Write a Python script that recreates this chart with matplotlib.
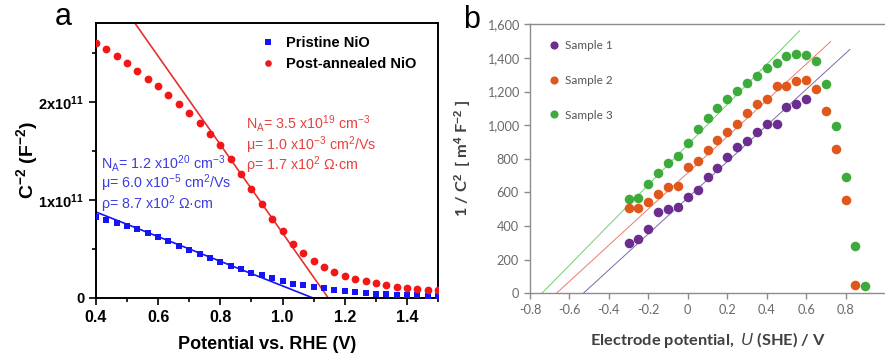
import numpy as np
import matplotlib
matplotlib.use("Agg")
import matplotlib.pyplot as plt
from matplotlib.ticker import MultipleLocator, FuncFormatter

plt.rcParams['font.family'] = ['Liberation Sans', 'DejaVu Sans']
plt.rcParams['mathtext.fontset'] = 'custom'
plt.rcParams['mathtext.rm'] = 'Liberation Sans'
plt.rcParams['mathtext.it'] = 'Liberation Sans:italic'
plt.rcParams['mathtext.bf'] = 'Liberation Sans:bold'
plt.rcParams['mathtext.default'] = 'regular'

# ---------------- Panel a data ----------------
pot_a = [0.400, 0.433, 0.467, 0.500, 0.533, 0.567, 0.600, 0.633, 0.667, 0.700,
         0.733, 0.767, 0.800, 0.833, 0.867, 0.900, 0.933, 0.967, 1.000, 1.033,
         1.067, 1.100, 1.133, 1.167, 1.200, 1.233, 1.267, 1.300, 1.333, 1.367,
         1.400, 1.433, 1.467, 1.500]
pristine = [0.83, 0.80, 0.77, 0.73, 0.70, 0.66, 0.62, 0.58, 0.53, 0.49,
            0.45, 0.41, 0.37, 0.33, 0.30, 0.26, 0.23, 0.20, 0.17, 0.14,
            0.13, 0.11, 0.10, 0.08, 0.07, 0.06, 0.05, 0.045, 0.04, 0.035,
            0.03, 0.03, 0.025, 0.025]  # x1e11
annealed = [2.60, 2.54, 2.47, 2.40, 2.32, 2.24, 2.16, 2.07, 1.98, 1.89,
            1.79, 1.67, 1.56, 1.42, 1.27, 1.11, 0.96, 0.81, 0.68, 0.55,
            0.46, 0.38, 0.32, 0.27, 0.22, 0.19, 0.17, 0.15, 0.13, 0.11,
            0.10, 0.09, 0.085, 0.08]  # x1e11
# Mott-Schottky fits: x-intercept (V), slope (1e11 F^-2 per V)
fit_a_x0 = [1.098, 1.147]
fit_a_slope = [-1.257, -4.51]
fit_a_start = [0.40, 0.40]

# ---------------- Panel b data ----------------
u_b = [-0.30, -0.25, -0.20, -0.15, -0.10, -0.05, 0.00, 0.05, 0.10, 0.15,
       0.20, 0.25, 0.30, 0.35, 0.40, 0.45, 0.50, 0.55, 0.60, 0.65,
       0.70, 0.75, 0.80, 0.85, 0.90]
sample1 = [297, 321, 381, 484, 500, 515, 575, 615, 690, 743,
           813, 872, 908, 960, 1005, 1005, 1110, 1124, 1154]
sample2 = [506, 506, 541, 591, 634, 640, 753, 787, 853, 912,
           960, 1007, 1071, 1126, 1154, 1233, 1235, 1263, 1269, 1213,
           1085, 859, 555, 50]
sample3 = [561, 567, 650, 714, 777, 817, 896, 975, 1041, 1104,
           1158, 1205, 1253, 1293, 1338, 1368, 1412, 1424, 1418, 1382,
           1243, 995, 694, 282, 44]
fit_b_x0 = [-0.530, -0.666, -0.740]
fit_b_x1 = [0.822, 0.724, 0.567]
fit_b_slope = [1073, 1077, 1195]
labels_b = ['Sample 1', 'Sample 2', 'Sample 3']

fig = plt.figure(figsize=(8.85, 3.58), dpi=100)

# ================= Panel a =================
ax = fig.add_axes([0.1085, 0.1676, 0.3864, 0.768])
blue = '#1414f5'
red = '#f21616'
x = np.array(pot_a)
ax.plot(x, np.array(pristine) * 1e11, 's', color=blue, ms=4.3, mew=0,
        label='Pristine NiO', zorder=3)
ax.plot(x, np.array(annealed) * 1e11, 'o', color=red, ms=5.6, mew=0,
        label='Post-annealed NiO', zorder=3)
for x0, s, xs, c in zip(fit_a_x0, fit_a_slope, fit_a_start, [blue, '#e53030']):
    xx = np.array([xs, x0])
    ax.plot(xx, s * (xx - x0) * 1e11, '-', color=c, lw=1.2, zorder=2)

ax.set_xlim(0.4, 1.5)
ax.set_ylim(0, 2.806e11)
ax.xaxis.set_major_locator(MultipleLocator(0.2))
ax.xaxis.set_minor_locator(MultipleLocator(0.1))
ax.yaxis.set_major_locator(MultipleLocator(1e11))
ax.yaxis.set_minor_locator(MultipleLocator(0.5e11))

def fmt_a(v, pos):
    n = int(round(v / 1e11))
    if n == 0:
        return '0'
    return r'%dx10$^{\mathbf{11}}$' % n

ax.yaxis.set_major_formatter(FuncFormatter(fmt_a))
ax.xaxis.set_major_formatter(FuncFormatter(lambda v, p: '%.1f' % v))
ax.tick_params(which='both', direction='out', width=1.2)
ax.tick_params(axis='x', labelsize=11.5)
ax.tick_params(axis='y', labelsize=10.5)
ax.tick_params(which='major', length=5)
ax.tick_params(which='minor', length=3)
for lab in ax.get_xticklabels() + ax.get_yticklabels():
    lab.set_fontweight('bold')
for sp in ax.spines.values():
    sp.set_linewidth(1.4)
ax.set_xlabel('Potential vs. RHE (V)', fontsize=13, fontweight='bold', labelpad=8)
ax.set_ylabel(r'C$^{\mathbf{-2}}$ (F$^{\mathbf{-2}}$)', fontsize=14,
              fontweight='bold')
ax.yaxis.set_label_coords(-0.165, 0.5)

leg = ax.legend(loc='upper left', bbox_to_anchor=(0.44, 1.0), frameon=False,
                prop={'weight': 'bold', 'size': 10.5}, handletextpad=0.6,
                labelspacing=0.45, markerscale=0.85, handlelength=1.2)

rc = '#e8403c'
bc = '#3c3ce0'
fs = 10.3
ax.text(0.44, 0.636, r'N$_A$= 3.5 x10$^{19}$ cm$^{-3}$', color=rc, fontsize=fs,
        transform=ax.transAxes, va='center')
ax.text(0.44, 0.556, r'μ= 1.0 x10$^{-3}$ cm$^2$/Vs', color=rc, fontsize=fs,
        transform=ax.transAxes, va='center')
ax.text(0.44, 0.482, r'ρ= 1.7 x10$^2$ Ω·cm', color=rc, fontsize=fs,
        transform=ax.transAxes, va='center')
ax.text(0.015, 0.491, r'N$_A$= 1.2 x10$^{20}$ cm$^{-3}$', color=bc, fontsize=fs,
        transform=ax.transAxes, va='center')
ax.text(0.015, 0.418, r'μ= 6.0 x10$^{-5}$ cm$^2$/Vs', color=bc, fontsize=fs,
        transform=ax.transAxes, va='center')
ax.text(0.015, 0.342, r'ρ= 8.7 x10$^2$ Ω·cm', color=bc, fontsize=fs,
        transform=ax.transAxes, va='center')

fig.text(0.072, 0.952, 'a', fontsize=22, ha='center', va='center')

# ================= Panel b =================
bx = fig.add_axes([0.5989, 0.1807, 0.4011, 0.7513])
cols = ['#6b2d8f', '#e0571c', '#3cab3c']
fitcols = ['#7a6aa8', '#f07a6a', '#6fcf6f']
series = [sample1, sample2, sample3]
for ys, c, lab in zip(series, cols, labels_b):
    bx.plot(u_b[:len(ys)], ys, 'o', color=c, ms=6.9, mew=0, label=lab, zorder=3)
for x0, x1, s, c in zip(fit_b_x0, fit_b_x1, fit_b_slope, fitcols):
    xx = np.array([x0, x1])
    bx.plot(xx, s * (xx - x0), '-', color=c, lw=0.7, zorder=2)

bx.set_xlim(-0.8, 1.0)
bx.set_ylim(0, 1600)
bx.set_xticks(np.round(np.arange(-0.8, 0.81, 0.2), 1))
bx.set_yticks(np.arange(0, 1601, 200))

def fmt_bx(v, p):
    if abs(v) < 1e-9:
        return '0'
    return ('%.1f' % v)

bx.xaxis.set_major_formatter(FuncFormatter(fmt_bx))
bx.yaxis.set_major_formatter(FuncFormatter(lambda v, p: '{:,.0f}'.format(v)))
gray = '#8c8c8c'
for k in ['left', 'bottom', 'top']:
    bx.spines[k].set_color(gray)
    bx.spines[k].set_linewidth(1.0)
bx.spines['right'].set_visible(False)
bx.tick_params(direction='out', length=4.5, color=gray, labelcolor='#6a6a6a',
               labelsize=9.2, width=1.0)
for lab in bx.get_xticklabels() + bx.get_yticklabels():
    lab.set_family('Lato')
bx.set_xlabel(r'Electrode potential,  $\mathit{U}$ (SHE) / V', fontsize=11.8,
              fontweight='bold', family='Lato', color='#404040', labelpad=10)
bx.set_ylabel(r'1 / C$^{\mathbf{2}}$  [ m$^{\mathbf{4}}$ F$^{\mathbf{-2}}$ ]',
              fontsize=11.8, fontweight='bold', family='Lato', color='#404040')
bx.yaxis.set_label_coords(-0.16, 0.5)
bx.legend(loc='upper left', bbox_to_anchor=(0.02, 0.98), frameon=False,
          prop={'family': 'Lato', 'size': 8.5}, labelcolor='#555555',
          labelspacing=2.0, handletextpad=0.5, markerscale=0.85,
          handlelength=1.0)

fig.text(0.533, 0.945, 'b', fontsize=22, ha='center', va='center')

fig.savefig('out.png', dpi=100)
